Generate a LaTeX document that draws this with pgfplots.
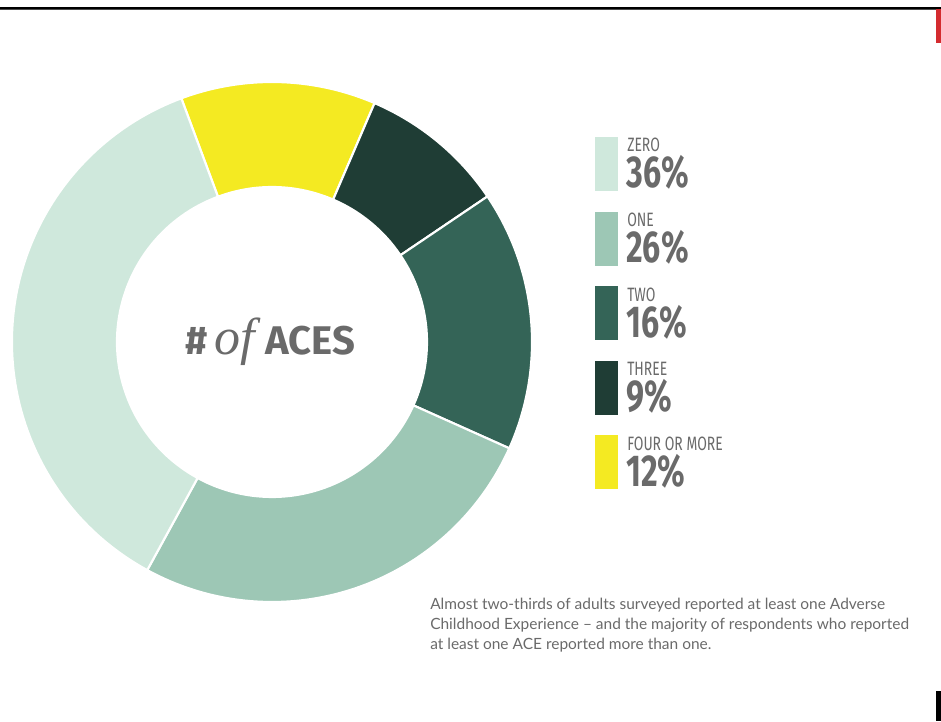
\documentclass[border=0pt]{standalone}
\usepackage{pgfplots}
\pgfplotsset{compat=1.18}
\usepackage{pgfplotstable}
\usepackage{fontspec}
\setmainfont{Lato}
\newfontfamily\cond[FakeStretch=0.72]{Fira Sans}
\newfontfamily\titlefont{Fira Sans}
\newfontfamily\serifit{Liberation Serif}
\definecolor{czero}{HTML}{CFE8DC}
\definecolor{cone}{HTML}{9DC7B5}
\definecolor{ctwo}{HTML}{346457}
\definecolor{cthree}{HTML}{1F3D35}
\definecolor{cfour}{HTML}{F4EA22}
\definecolor{txt}{HTML}{6A6A6A}
\definecolor{cred}{HTML}{D42B2F}
\pgfplotstableread{
label value col
{FOUR OR MORE} 12 cfour
THREE 9 cthree
TWO 16 ctwo
ONE 26 cone
ZERO 36 czero
}\acedata
\tikzset{
  leglab/.style={anchor=base west,text=txt,inner sep=0pt,font=\cond\fontsize{14.5}{14.5}\selectfont},
  legpct/.style={anchor=base west,text=txt,inner sep=0pt,font=\cond\bfseries\fontsize{33.5}{33.5}\selectfont},
  captxt/.style={anchor=base west,text=txt,inner sep=0pt,font=\fontsize{11.6}{11.6}\selectfont}
}
\begin{document}
\begin{tikzpicture}
\begin{axis}[name=ax,x=0.75pt,y=0.75pt,xmin=0,xmax=941,ymin=0,ymax=721,hide axis,clip=false,scale only axis]
\path (axis cs:0,0) rectangle (axis cs:941,721);
% decorations
\fill[black] (axis cs:0,714) rectangle (axis cs:941,711.5);
\fill[black!70] (axis cs:0,711.5) rectangle (axis cs:936,711);
\fill[cred] (axis cs:936,712) rectangle (axis cs:941,678);
\fill[black] (axis cs:935.5,0) rectangle (axis cs:941,30);
% donut
\pgfplotstablegetrowsof{\acedata}
\pgfmathtruncatemacro\nrows{\pgfplotsretval-1}
\xdef\total{0}
\pgfplotsforeachungrouped \i in {0,...,\nrows}{%
  \pgfplotstablegetelem{\i}{value}\of\acedata
  \pgfmathsetmacro\tmp{\total+\pgfplotsretval}%
  \xdef\total{\tmp}%
}
\xdef\curang{110.4}
\pgfplotsforeachungrouped \i in {0,...,\nrows}{%
  \pgfplotstablegetelem{\i}{value}\of\acedata \let\val\pgfplotsretval
  \pgfplotstablegetelem{\i}{col}\of\acedata \let\col\pgfplotsretval
  \pgfmathsetmacro\aend{\curang-\val/\total*360}%
  \pgfmathsetmacro\xo{272+260*cos(\curang)}%
  \pgfmathsetmacro\yo{379+260*sin(\curang)}%
  \pgfmathsetmacro\xi{272+155*cos(\aend)}%
  \pgfmathsetmacro\yi{379+155*sin(\aend)}%
  \pgfmathsetmacro\ltop{721-137-(\nrows-\i)*74.6}%
  \pgfmathsetmacro\lbot{\ltop-54}%
  \pgfmathsetmacro\lab{\ltop-15}%
  \pgfmathsetmacro\pb{\ltop-51}%
  \pgfplotstablegetelem{\i}{label}\of\acedata \let\labtxt\pgfplotsretval
  \edef\cmd{%
    \noexpand\fill[\col,draw=white,line width=1.6pt] (axis cs:\xo,\yo) arc[start angle=\curang,end angle=\aend,radius=195pt] -- (axis cs:\xi,\yi) arc[start angle=\aend,end angle=\curang,radius=116.25pt] -- cycle;
    \noexpand\fill[\col] (axis cs:595,\ltop) rectangle (axis cs:618,\lbot);
    \noexpand\node[leglab] at (axis cs:627,\lab) {\labtxt};
    \noexpand\node[legpct] at (axis cs:626,\pb) {\val\noexpand\%};
  }%
  \cmd
  \xdef\curang{\aend}%
}
% centre title
\node[text=txt,anchor=base west,inner sep=0pt] at (axis cs:185,366) {{\titlefont\bfseries\fontsize{30}{30}\selectfont\#}\hspace{5pt}{\serifit\itshape\fontsize{39}{39}\selectfont of}\hspace{8pt}{\titlefont\bfseries\fontsize{30}{30}\selectfont ACES}};
% caption
\node[captxt] at (axis cs:430,112) {Almost two-thirds of adults surveyed reported at least one Adverse};
\node[captxt] at (axis cs:430,92) {Childhood Experience -- and the majority of respondents who reported};
\node[captxt] at (axis cs:430,72) {at least one ACE reported more than one.};
\end{axis}
\pgfresetboundingbox
\path (ax.south west) rectangle (ax.north east);
\end{tikzpicture}
\end{document}
